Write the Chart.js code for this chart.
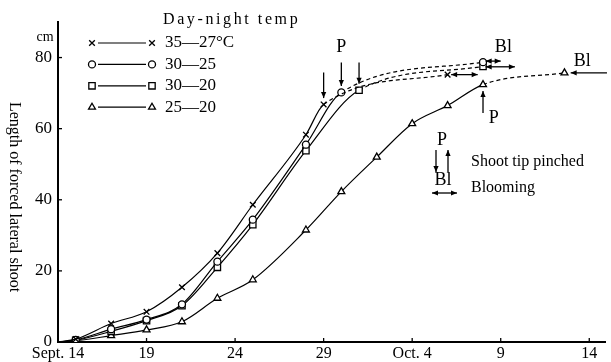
<!DOCTYPE html>
<html>
<head>
<meta charset="utf-8">
<script src="https://cdn.jsdelivr.net/npm/chart.js@4.4.1/dist/chart.umd.min.js"></script>
<style>
html, body { margin: 0; padding: 0; background: #fff; }
#wrap { position: relative; width: 611px; height: 362px; }
</style>
</head>
<body>
<div id="wrap"><canvas id="growthChart" width="611" height="362"></canvas></div>
<script>
// x values are days after Sept. 14
const days35_27 = [0, 1, 3, 5, 7, 9, 11, 14, 15, 22];
const len35_27 = [0, 0.8, 5.2, 8.5, 15.4, 25.0, 38.6, 58.3, 66.8, 75.2];
const days30_25 = [0, 1, 3, 5, 7, 9, 11, 14, 16, 24];
const len30_25 = [0, 0.6, 3.6, 6.3, 10.6, 22.6, 34.4, 55.5, 70.2, 78.7];
const days30_20 = [0, 1, 3, 5, 7, 9, 11, 14, 17, 24];
const len30_20 = [0, 0.5, 3.0, 6.0, 10.2, 21.0, 33.0, 53.8, 70.8, 77.5];
const days25_20 = [0, 1, 3, 5, 7, 9, 11, 14, 16, 18, 20, 22, 24, 28.6];
const len25_20 = [0, 0.3, 1.8, 3.4, 5.7, 12.3, 17.5, 31.5, 42.3, 52.0, 61.4, 66.5, 72.4, 75.7];

const seriesNames = ["35\u201427\u00b0C", "30\u201425", "30\u201420", "25\u201420"];
const pinchIndex = [8, 8, 8, 12]; // line is dashed after this point

const xTickDays = [0, 5, 10, 15, 20, 25, 30];
const xTickLabels = ["Sept. 14", "19", "24", "29", "Oct. 4", "9", "14"];
const yTickValues = [0, 20, 40, 60, 80];

// shoot tip pinched arrows: [day, from, to]
const pinchArrows = [[15, 75.8, 68.6], [16, 78.6, 72.0], [17, 78.6, 72.6], [24, 64.4, 70.6]];
// blooming arrows: [start day, end day, length, head at both ends]
const bloomArrows = [[22.2, 23.7, 75.2, true], [24.15, 25.0, 79.0, true], [24.15, 25.8, 77.4, true], [28.95, 31, 75.7, false]];
// text marks: [text, day, length]
const markTexts = [["P", 16, 83], ["P", 24.6, 63], ["Bl", 25.15, 83], ["Bl", 29.6, 79]];

const serif = '"Liberation Serif", "DejaVu Serif", serif';
const shapes = ["crossRot", "circle", "rect", "triangle"];
const sizes = [4, 3.5, 4.5, 4];

function makeSet(i, days, vals) {
  return {
    label: seriesNames[i],
    data: days.map((d, k) => ({ x: d, y: vals[k] })),
    borderColor: "#000",
    borderWidth: 1.2,
    pointStyle: shapes[i],
    pointRadius: ctx => ctx.dataIndex === 0 ? 0 : sizes[i],
    pointBackgroundColor: "#fff",
    pointBorderColor: "#000",
    pointBorderWidth: 1.3,
    cubicInterpolationMode: "monotone",
    segment: {
      borderDash: ctx => ctx.p0DataIndex >= pinchIndex[i] ? [4, 3] : undefined
    }
  };
}

function arrowHead(ctx, x1, y1, x2, y2) {
  const a = Math.atan2(y2 - y1, x2 - x1), L = 6, W = 2.6;
  ctx.beginPath();
  ctx.moveTo(x2, y2);
  ctx.lineTo(x2 - L * Math.cos(a) + W * Math.sin(a), y2 - L * Math.sin(a) - W * Math.cos(a));
  ctx.lineTo(x2 - L * Math.cos(a) - W * Math.sin(a), y2 - L * Math.sin(a) + W * Math.cos(a));
  ctx.closePath();
  ctx.fill();
}

function arrow(ctx, x1, y1, x2, y2, both, startHead) {
  ctx.beginPath();
  ctx.moveTo(x1, y1);
  ctx.lineTo(x2, y2);
  ctx.stroke();
  if (!startHead || both) arrowHead(ctx, x1, y1, x2, y2);
  if (both || startHead) arrowHead(ctx, x2, y2, x1, y1);
}

const annotate = {
  id: "annotate",
  afterDraw(chart) {
    const { ctx, scales: { x, y } } = chart;
    ctx.save();
    ctx.fillStyle = "#000";
    ctx.strokeStyle = "#000";
    ctx.lineWidth = 1.3;

    // small inner ticks
    xTickDays.forEach(d => {
      const px = x.getPixelForValue(d);
      ctx.beginPath(); ctx.moveTo(px, y.bottom); ctx.lineTo(px, y.bottom - 4); ctx.stroke();
    });
    yTickValues.forEach(v => {
      const py = y.getPixelForValue(v);
      ctx.beginPath(); ctx.moveTo(x.left, py); ctx.lineTo(x.left + 4, py); ctx.stroke();
    });

    // pinch and bloom arrows
    pinchArrows.forEach(([d, a, b]) => {
      const px = x.getPixelForValue(d);
      arrow(ctx, px, y.getPixelForValue(a), px, y.getPixelForValue(b), false, false);
    });
    bloomArrows.forEach(([d1, d2, v, both]) => {
      const py = y.getPixelForValue(v);
      arrow(ctx, x.getPixelForValue(d1), py, x.getPixelForValue(d2), py, both, !both);
    });

    ctx.font = "18px " + serif;
    ctx.textAlign = "center";
    ctx.textBaseline = "middle";
    markTexts.forEach(([t, d, v]) => {
      ctx.fillText(t, x.getPixelForValue(d), y.getPixelForValue(v));
    });

    // y axis title, reading downward
    ctx.save();
    ctx.translate(14, 197);
    ctx.rotate(Math.PI / 2);
    ctx.font = "16px " + serif;
    ctx.fillText("Length of forced lateral shoot", 0, 0);
    ctx.restore();

    ctx.font = "14px " + serif;
    ctx.fillText("cm", 45, 37);

    // series legend
    ctx.textAlign = "left";
    ctx.font = "16px " + serif;
    ctx.letterSpacing = "2.6px";
    ctx.fillText("Day-night temp", 163, 20);
    ctx.letterSpacing = "0px";
    ctx.font = "17px " + serif;
    chart.data.datasets.forEach((ds, i) => {
      const ly = 43 + i * 21.4;
      ctx.lineWidth = 1.2;
      ctx.beginPath(); ctx.moveTo(98, ly); ctx.lineTo(146, ly); ctx.stroke();
      ctx.lineWidth = 1.3;
      ctx.fillStyle = "#fff";
      [92, 152].forEach(mx => {
        Chart.helpers.drawPoint(ctx, { pointStyle: ds.pointStyle, radius: sizes[i], borderWidth: 1.3, rotation: 0 }, mx, ly);
      });
      ctx.fillStyle = "#000";
      ctx.fillText(ds.label, 165, ly);
    });

    // key for the arrows
    ctx.textAlign = "center";
    ctx.font = "18px " + serif;
    ctx.fillText("P", 442, 140);
    ctx.fillText("Bl", 443, 180);
    ctx.lineWidth = 1.3;
    arrow(ctx, 436, 150, 436, 172, false, false);
    arrow(ctx, 448, 172, 448, 150, false, false);
    arrow(ctx, 432, 193, 457, 193, true, false);
    ctx.textAlign = "left";
    ctx.font = "16px " + serif;
    ctx.fillText("Shoot tip pinched", 471, 162);
    ctx.fillText("Blooming", 471, 188);
    ctx.restore();
  }
};

const ctx = document.getElementById("growthChart").getContext("2d");
new Chart(ctx, {
  type: "line",
  data: {
    datasets: [
      makeSet(0, days35_27, len35_27),
      makeSet(1, days30_25, len30_25),
      makeSet(2, days30_20, len30_20),
      makeSet(3, days25_20, len25_20)
    ]
  },
  options: {
    responsive: false,
    animation: false,
    layout: { padding: { top: 22, right: 0, left: 0, bottom: 0 } },
    plugins: {
      legend: { display: false },
      tooltip: { enabled: false }
    },
    scales: {
      x: {
        type: "linear",
        min: 0,
        max: 30.9,
        afterBuildTicks: s => { s.ticks = xTickDays.map(v => ({ value: v })); },
        afterFit: s => { s.height = 20; },
        border: { color: "#000", width: 2 },
        grid: { display: false, drawTicks: false, tickLength: 0 },
        ticks: {
          callback: (v, i) => xTickLabels[i],
          font: { family: serif, size: 16 },
          color: "#000",
          padding: 2,
          maxRotation: 0,
          autoSkip: false
        }
      },
      y: {
        min: 0,
        max: 90,
        afterBuildTicks: s => { s.ticks = yTickValues.map(v => ({ value: v })); },
        afterFit: s => { s.width = 58; },
        border: { color: "#000", width: 2 },
        grid: { display: false, drawTicks: false, tickLength: 0 },
        ticks: {
          font: { family: serif, size: 17 },
          color: "#000",
          padding: 6
        }
      }
    }
  },
  plugins: [annotate]
});
</script>
</body>
</html>
